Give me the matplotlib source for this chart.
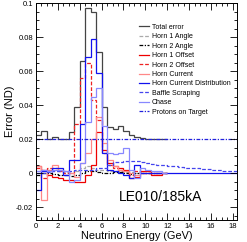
import matplotlib
matplotlib.use("Agg")
import matplotlib.pyplot as plt
import numpy as np
from matplotlib.ticker import MultipleLocator

plt.rcParams["font.family"] = ["Liberation Sans", "DejaVu Sans"]

# bin edges (GeV)
edges_12 = np.arange(0, 12.01, 0.5)
edges_18 = np.arange(0, 18.51, 0.5)

total_error = [0.0225, 0.025, 0.020, 0.021, 0.020, 0.020, 0.024, 0.039, 0.066, 0.097, 0.095, 0.071,
               0.039, 0.027, 0.026, 0.028, 0.025, 0.0225, 0.021, 0.0205, 0.020, 0.020, 0.020, 0.020]
horn1_angle = [0.001, 0.002, 0.002, 0.001, 0.001, 0.0005, 0.0, 0.001, 0.003, 0.004, 0.003, 0.002,
               0.002, 0.001, 0.001, 0.001, 0.0005, 0.0005, 0.0, 0.0, 0.0, 0.0, 0.0, 0.0]
horn2_angle = [-0.001, 0.0, 0.0, -0.0005, -0.001, -0.001, -0.0015, -0.001, 0.0, 0.001, 0.001, 0.0005,
               0.0, 0.0, 0.0005, 0.0005, 0.0, -0.0005, 0.0, 0.0, 0.0, 0.0, 0.0, 0.0]
horn1_offset = [0.004, 0.002, -0.001, -0.002, -0.003, -0.004, -0.004, -0.005, -0.005, -0.001, 0.005, 0.024,
                0.0135, 0.006, 0.004, 0.003, 0.002, -0.003, -0.002, 0.001, 0.001, -0.001, -0.001, 0.0]
horn2_offset = [0.003, -0.003, 0.003, 0.003, 0.001, 0.0, 0.0, 0.029, 0.056, 0.065, 0.043, 0.031,
                0.012, 0.005, 0.003, 0.002, 0.001, -0.001, 0.001, 0.0, 0.0, 0.0, 0.0, 0.0]
horn_current = [0.004, -0.016, 0.002, 0.005, 0.002, 0.001, 0.0, -0.002, 0.006, 0.012, 0.020, 0.033,
                0.018, 0.008, 0.004, 0.002, 0.001, 0.0, -0.001, 0.0, 0.0, 0.0, 0.0, 0.0]
horn_current_dist = [-0.010, 0.001, 0.001, 0.003, 0.003, -0.001, 0.0076, 0.0076, 0.029, 0.068, 0.079, 0.059,
                     0.012, 0.002, 0.001, 0.0, -0.001, -0.003, 0.0047, 0.0, 0.0, 0.0, 0.0, 0.0,
                     0.0, 0.0, 0.0, 0.0, 0.0, 0.0, 0.0, 0.0, 0.0, 0.0, 0.0, 0.0, 0.0]
baffle_scraping = [0.0, 0.0, 0.0005, 0.001, 0.001, 0.001, 0.0015, 0.002, 0.002, 0.002, 0.002, 0.003,
                   0.003, 0.005, 0.0066, 0.0066, 0.0072, 0.0072, 0.007, 0.0065, 0.006, 0.0055, 0.005, 0.0048,
                   0.0045, 0.004, 0.0035, 0.003, 0.003, 0.0028, 0.0025, 0.0022, 0.002, 0.0018, 0.0015, 0.0012, 0.001]
chase = [0.001, 0.002, 0.001, 0.002, 0.002, 0.001, -0.005, -0.004, 0.006, 0.030, 0.045, 0.050,
         0.028, 0.012, 0.011, 0.012, 0.015, 0.002, -0.003, 0.003, 0.002, 0.001, 0.001, 0.0]
protons_on_target = [0.020] * 37

dashed = (0, (3, 1.5))
dashdot = (0, (3, 1.2, 1, 1.2))
series = [
    ("Total error", edges_12, total_error, "#444444", "-"),
    ("Horn 1 Angle", edges_12, horn1_angle, "#aaaaaa", dashed),
    ("Horn 2 Angle", edges_12, horn2_angle, "black", dashdot),
    ("Horn 1 Offset", edges_12, horn1_offset, "#ee0000", "-"),
    ("Horn 2 Offset", edges_12, horn2_offset, "#ee2222", dashed),
    ("Horn Current", edges_12, horn_current, "#ff8888", "-"),
    ("Horn Current Distribution", edges_18, horn_current_dist, "#1111ee", "-"),
    ("Baffle Scraping", edges_18, baffle_scraping, "#4444ee", dashed),
    ("Chase", edges_12, chase, "#8888ff", "-"),
    ("Protons on Target", edges_18, protons_on_target, "#2222dd", dashdot),
]

fig = plt.figure(figsize=(2.47, 2.42), dpi=100)
ax = fig.add_axes([0.1457, 0.0909, 0.8126, 0.8967])

for label, edges, values, color, ls in series:
    ax.stairs(values, edges, color=color, linestyle=ls, linewidth=0.9, label=label, baseline=None)

ax.set_xlim(0, 18.35)
ax.set_ylim(-0.0275, 0.1)
ax.xaxis.set_minor_locator(MultipleLocator(0.5))
ax.yaxis.set_minor_locator(MultipleLocator(0.005))
ax.set_xticks(np.arange(0, 19, 2))
ax.set_xticklabels([str(v) for v in range(0, 19, 2)])
ax.set_yticks([-0.02, 0, 0.02, 0.04, 0.06, 0.08, 0.1])
ax.set_yticklabels(["-0.02", "0", "0.02", "0.04", "0.06", "0.08", "0.1"])
ax.tick_params(which="both", direction="in", top=True, right=True, labelsize=5.5, pad=2)
ax.tick_params(which="major", length=5, width=0.6)
ax.tick_params(which="minor", length=2.5, width=0.6)
for spine in ax.spines.values():
    spine.set_linewidth(0.7)

ax.set_xlabel("Neutrino Energy (GeV)", fontsize=7.8, labelpad=1)
ax.set_ylabel("Error (ND)", fontsize=8, labelpad=1)
ax.text(7.55, -0.014, "LE010/185kA", fontsize=10, va="center", ha="left")

ax.legend(loc="upper left", bbox_to_anchor=(0.5628, 0.9017), bbox_transform=fig.transFigure,
          frameon=False, fontsize=5, handlelength=1.4, handletextpad=0.4, labelspacing=0.35,
          borderpad=0, borderaxespad=0)

fig.savefig("out.png", dpi=100)
